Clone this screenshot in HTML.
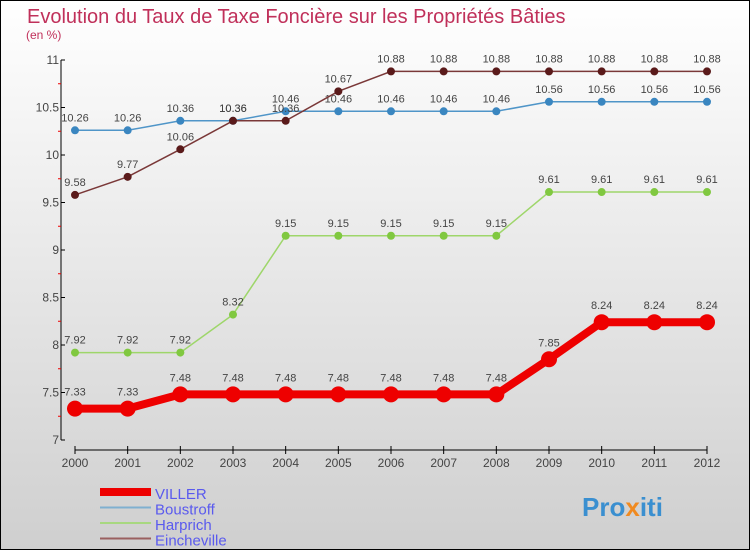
<!DOCTYPE html>
<html><head><meta charset="utf-8"><style>
body{margin:0;}
svg{display:block;font-family:"Liberation Sans",sans-serif;}
</style></head><body>
<svg id="chart" width="750" height="550" xmlns="http://www.w3.org/2000/svg">
<defs><linearGradient id="bg" x1="0" y1="0" x2="0" y2="1"><stop offset="0" stop-color="#ffffff"/><stop offset="1" stop-color="#cfcfcf"/></linearGradient></defs>
<rect x="0.5" y="0.5" width="749" height="549" fill="url(#bg)" stroke="#000"/>
<text x="27" y="23" font-size="20" fill="#c0305a">Evolution du Taux de Taxe Foncière sur les Propriétés Bâties</text>
<text x="26" y="39" font-size="12" fill="#c0305a">(en %)</text>
<g id="axes"></g>
<g id="series"></g>
<g id="legend"></g>
<text x="582" y="516" font-size="26" font-weight="bold" fill="#3a8fd0">Pro<tspan fill="#f08a20">x</tspan>iti</text>
</svg>
<script>
const years=[2000,2001,2002,2003,2004,2005,2006,2007,2008,2009,2010,2011,2012];
const viller=[7.33,7.33,7.48,7.48,7.48,7.48,7.48,7.48,7.48,7.85,8.24,8.24,8.24];
const boustroff=[10.26,10.26,10.36,10.36,10.46,10.46,10.46,10.46,10.46,10.56,10.56,10.56,10.56];
const harprich=[7.92,7.92,7.92,8.32,9.15,9.15,9.15,9.15,9.15,9.61,9.61,9.61,9.61];
const eincheville=[9.58,9.77,10.06,10.36,10.36,10.67,10.88,10.88,10.88,10.88,10.88,10.88,10.88];
const yTicks=[7,7.5,8,8.5,9,9.5,10,10.5,11];
const NS="http://www.w3.org/2000/svg";
const x=i=>75+i*(707-75)/(years.length-1);
const y=v=>440-(v-7)*95;
function mk(t,a,p){const e=document.createElementNS(NS,t);for(const k in a)e.setAttribute(k,a[k]);p.appendChild(e);return e;}
const ax=document.getElementById('axes');
let l=mk('line',{x1:61,y1:60,x2:61,y2:440,stroke:'#000'},ax);


l=mk('line',{x1:75,y1:450,x2:707,y2:450,stroke:'#000'},ax);


yTicks.forEach((v,i)=>{
  mk('line',{x1:61,y1:y(v),x2:65,y2:y(v),stroke:'#000'},ax);
  if(i<yTicks.length-1) mk('line',{x1:58,y1:y(v+0.25),x2:61,y2:y(v+0.25),stroke:'#e00'},ax);
  const t=mk('text',{x:59,y:y(v)+4,'font-size':12,fill:'#444','text-anchor':'end'},ax);
  t.textContent=String(v);
  
  
});
years.forEach((yr,i)=>{
  mk('line',{x1:x(i),y1:446,x2:x(i),y2:454,stroke:'#000'},ax);
  const t=mk('text',{x:x(i),y:467,'font-size':12,fill:'#444','text-anchor':'middle'},ax);
  t.textContent=yr;
  
  
});
const sg=document.getElementById('series');
const defs=[
 {name:'boustroff',data:boustroff,color:'#4f95c8',w:1.5,r:4,fill:'#3a86c0'},
 {name:'harprich',data:harprich,color:'#9ed66a',w:1.5,r:4,fill:'#80c840'},
 {name:'eincheville',data:eincheville,color:'#7a3838',w:1.5,r:4,fill:'#5a1a1a'},
 {name:'viller',data:viller,color:'#ee0000',w:8,r:8,fill:'#ee0000'}
];
defs.forEach(s=>{
  const g=mk('g',{},sg);
  
  
  const p=mk('polyline',{points:s.data.map((v,i)=>x(i)+','+y(v)).join(' '),fill:'none',stroke:s.color,'stroke-width':s.w},g);
  
  
  s.data.forEach((v,i)=>{
    const c=mk('circle',{cx:x(i),cy:y(v),r:s.r,fill:s.fill},g);
    
    
    const t=mk('text',{x:x(i),y:y(v)-(s.r+5),'font-size':11,fill:'#444','text-anchor':'middle'},g);
    t.textContent=String(v);
    
    
  });
});
const lg=document.getElementById('legend');
[['VILLER','#ee0000',8],['Boustroff','#7fb0d0',2],['Harprich','#a8d880',2],['Eincheville','#9a6060',2]].forEach((e,i)=>{
  const yy=492+i*15.5;
  const g=mk('g',{},lg);
  
  
  mk('line',{x1:100,y1:yy,x2:151,y2:yy,stroke:e[1],'stroke-width':e[2]},g);
  const t=mk('text',{x:155,y:yy+7,'font-size':15,fill:'#5a5aee'},g);
  t.textContent=e[0];
});
</script>
</body></html>
